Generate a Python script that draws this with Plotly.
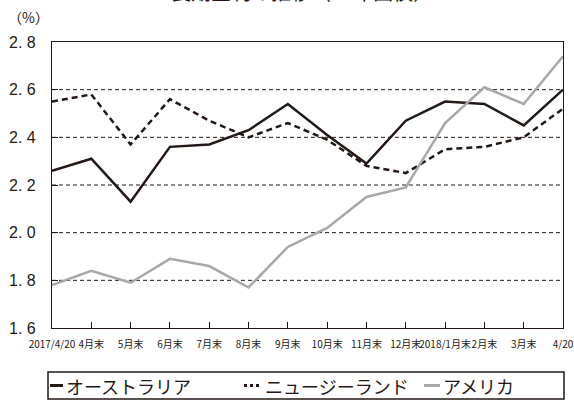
import plotly.graph_objects as go

# Month-end categories, April 2017 to April 2018
categories = ["2017/4/20", "4月末", "5月末", "6月末", "7月末", "8月末", "9月末",
              "10月末", "11月末", "12月末", "2018/1月末", "2月末", "3月末", "4/20"]

# Yields (%)
australia = [2.26, 2.31, 2.13, 2.36, 2.37, 2.43, 2.54, 2.41, 2.29, 2.47, 2.55, 2.54, 2.45, 2.60]
new_zealand = [2.55, 2.58, 2.37, 2.56, 2.47, 2.40, 2.46, 2.39, 2.28, 2.25, 2.35, 2.36, 2.40, 2.52]
usa = [1.78, 1.84, 1.79, 1.89, 1.86, 1.77, 1.94, 2.02, 2.15, 2.19, 2.46, 2.61, 2.54, 2.74]

series_names = ["オーストラリア", "ニュージーランド", "アメリカ"]

y_ticks = [1.6, 1.8, 2.0, 2.2, 2.4, 2.6, 2.8]
y_tick_text = ["1.\u00a06", "1.\u00a08", "2.\u00a00", "2.\u00a02", "2.\u00a04", "2.\u00a06", "2.\u00a08"]
grid_levels = [1.8, 2.0, 2.2, 2.4, 2.6]

INK = "#231815"
GRAY = "#a8a8a8"
JP = "Noto Sans CJK JP"
x_idx = list(range(len(categories)))

styles = [
    dict(color=INK, width=2.5),
    dict(color=INK, width=2.5, dash="6px,4px"),
    dict(color=GRAY, width=2.5),
]

fig = go.Figure()
for name, vals, st in zip(series_names, [australia, new_zealand, usa], styles):
    fig.add_trace(go.Scatter(x=x_idx, y=vals, mode="lines", name=name, line=st,
                             showlegend=False))

# Dashed horizontal reference lines
for lv in grid_levels:
    fig.add_shape(type="line", xref="paper", yref="y", x0=0, x1=1, y0=lv, y1=lv,
                  line=dict(color=INK, width=1, dash="4px,3px"), layer="below")

# Legend drawn beneath the chart inside a framed box
PW, PH = 511.0, 286.0          # plot area size in px
def px_x(p):                    # page px -> paper x
    return (p - 52) / PW
def px_y(p):                    # page px -> paper y
    return (328 - p) / PH

fig.add_shape(type="rect", xref="paper", yref="paper",
              x0=px_x(48), x1=px_x(564), y0=px_y(372), y1=px_y(399),
              line=dict(color=INK, width=1.5), fillcolor="rgba(0,0,0,0)")

legend_items = [
    (50, 63, 64, dict(color=INK, width=3)),
    (244, 262, 263, dict(color=INK, width=3, dash="3px,3px")),
    (424, 440, 441, dict(color=GRAY, width=3)),
]
ly = px_y(385.5)
for (sx0, sx1, tx, st), name in zip(legend_items, series_names):
    fig.add_shape(type="line", xref="paper", yref="paper", x0=px_x(sx0), x1=px_x(sx1),
                  y0=ly, y1=ly, line=st)
    fig.add_annotation(text=name, xref="paper", yref="paper", x=px_x(tx), y=ly,
                       xanchor="left", yanchor="middle", showarrow=False,
                       font=dict(family=JP, size=18, color=INK))

fig.update_layout(
    width=574, height=402,
    margin=dict(l=52, r=11, t=42, b=74, autoexpand=False),
    paper_bgcolor="white", plot_bgcolor="white",
    font=dict(family=JP, color=INK),
    showlegend=False,
    xaxis=dict(range=[0, len(categories) - 1], tickmode="array", tickvals=x_idx,
               ticktext=categories, ticks="inside", ticklen=6, tickcolor=INK,
               showgrid=False, zeroline=False, showline=True, linecolor=INK,
               linewidth=1.2, mirror=True, tickangle=0, ticklabeloverflow="allow",
               ticklabelstandoff=7,
               tickfont=dict(family=JP, size=10, color=INK)),
    yaxis=dict(range=[1.6, 2.8], tickmode="array", tickvals=y_ticks, ticktext=y_tick_text,
               ticks="inside", ticklen=6, tickcolor=INK, showgrid=False,
               zeroline=False, showline=True, linecolor=INK, linewidth=1.2,
               mirror=True, ticklabelstandoff=12,
               tickfont=dict(family="Liberation Sans", size=16, color=INK)),
)

fig.add_annotation(text="（%）", xref="paper", yref="paper", x=px_x(28), y=px_y(17),
                   xanchor="center", yanchor="middle", showarrow=False,
                   font=dict(family=JP, size=14, color=INK))
fig.add_annotation(text="長期金利の推移（10年国債）", xref="paper", yref="paper",
                   x=px_x(302), y=px_y(-9), xanchor="center", yanchor="middle",
                   showarrow=False, font=dict(family=JP, size=20, color=INK))

fig.write_html("out.html")
